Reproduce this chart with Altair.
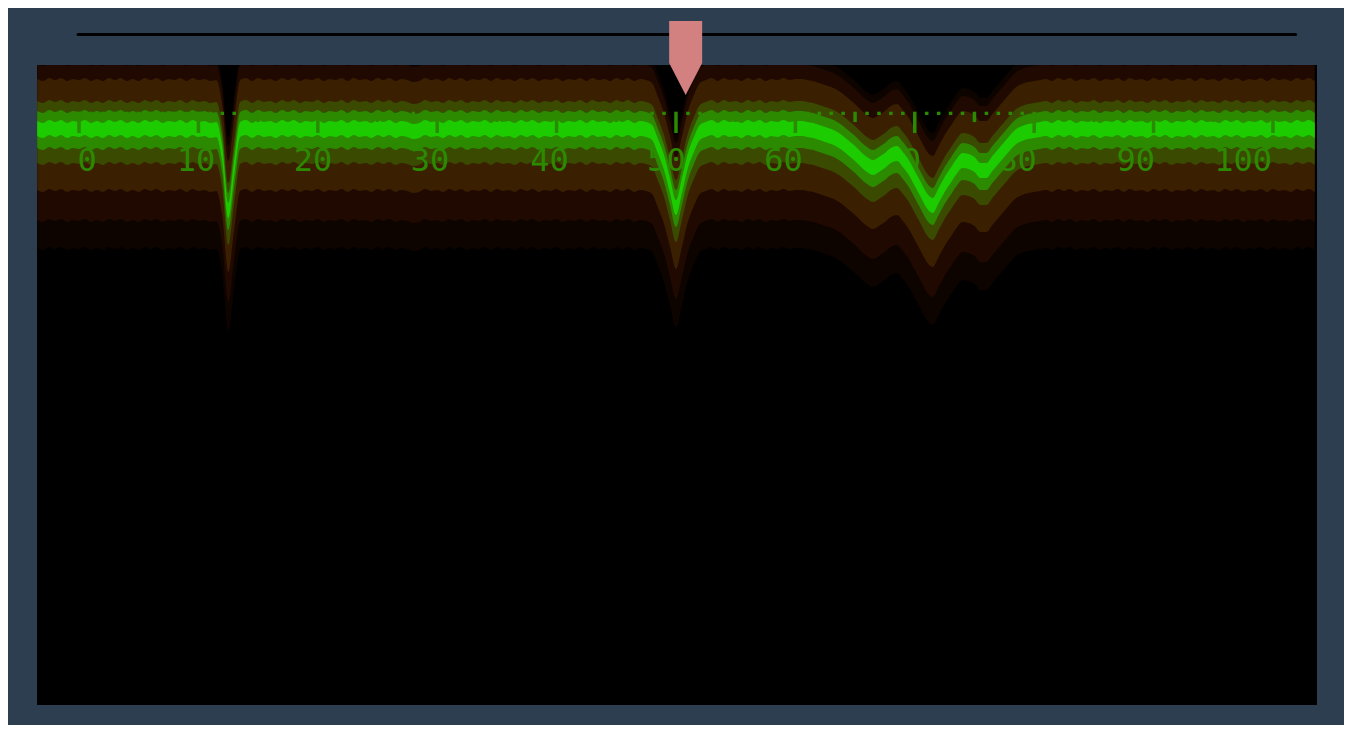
import altair as alt
import numpy as np
import pandas as pd

# range samples, every half unit across the display
x_pos = np.arange(-3.5, 104.0, 0.5)

# echo depth of the trace at each sample (pixels below the top of the display)
depth = [
    63, 65, 62, 64, 62, 65, 63, 64, 62, 65,
    63, 65, 62, 64, 62, 65, 63, 65, 62, 64,
    62, 65, 63, 64, 62, 65, 62, 64, 63, 65,
    64, 89, 145, 102, 64, 62, 65, 62, 64, 63,
    65, 62, 64, 62, 65, 63, 64, 62, 65, 63,
    64, 62, 65, 62, 64, 63, 65, 62, 64, 62,
    65, 63, 64, 66, 65, 62, 64, 63, 65, 62,
    64, 62, 65, 63, 64, 62, 65, 62, 64, 63,
    65, 62, 64, 62, 65, 63, 64, 62, 65, 63,
    64, 62, 65, 62, 64, 63, 65, 62, 64, 62,
    65, 63, 64, 67, 81, 97, 120, 142, 120, 95,
    79, 67, 64, 62, 65, 62, 64, 63, 65, 62,
    64, 62, 65, 63, 64, 62, 64, 63, 63, 64,
    65, 67, 69, 71, 74, 78, 83, 88, 94, 99,
    102, 99, 95, 90, 88, 94, 102, 113, 124, 135,
    140, 130, 119, 110, 101, 95, 96, 99, 105, 105,
    98, 91, 84, 77, 71, 68, 66, 65, 64, 63,
    65, 62, 64, 62, 65, 63, 64, 62, 65, 63,
    64, 62, 65, 62, 64, 63, 65, 62, 64, 62,
    65, 63, 64, 62, 65, 62, 64, 63, 65, 62,
    64, 62, 65, 63, 64, 62, 65, 62, 64, 63,
    65, 62, 64, 62, 65,
]

# range ruler labels and where they sit on the scale
label_text = ["0", "10", "20", "30", "40", "50", "60", "70", "80", "90", "100"]
label_pos = [0.67, 9.8, 19.6, 29.4, 39.4, 49.2, 59.0, 68.9, 78.6, 88.5, 97.5]

# cursor on the top slider
cursor_pos = [50.81]

trace = pd.DataFrame({"x": x_pos, "depth": depth})
labels = pd.DataFrame({"x": label_pos, "text": label_text, "y": 106})

ticks = np.arange(0, 104)
tick_top = np.full(len(ticks), 46.7)
tick_bottom = np.where(ticks % 10 == 0, 68, np.where(ticks % 5 == 0, 57, 50))
ruler = pd.DataFrame({"x": ticks, "y": tick_top, "y2": tick_bottom})

slider_df = pd.DataFrame({"a": [-0.08], "b": [101.9], "y": [-30.5]})
cursor_df = pd.DataFrame({"x": cursor_pos, "y": [-7]})

xs = alt.Scale(domain=[-3.52, 103.69], nice=False, zero=False)
ys = alt.Scale(domain=[0, 640], reverse=True, nice=False, zero=False)

# glow bands around the trace: (above, below, colour), outermost first
bands = [
    (72, 120, "#0d0400"),
    (64, 92, "#1f0900"),
    (49, 62, "#3a1f00"),
    (27, 35, "#3a4a00"),
    (17, 20, "#2b8a00"),
    (7, 8, "#1ccc00"),
]


def band(up, down, color):
    return (
        alt.Chart(trace)
        .transform_calculate(lo=f"datum.depth - {up}", hi=f"datum.depth + {down}")
        .mark_area(color=color, clip=True, interpolate="monotone")
        .encode(
            x=alt.X("x:Q", scale=xs, axis=None),
            y=alt.Y("lo:Q", scale=ys, axis=None),
            y2="hi:Q",
        )
    )


glow = [band(*b) for b in bands]

label_layer = (
    alt.Chart(labels)
    .mark_text(font="DejaVu Sans Mono", fontSize=32, color="#2b8a00", align="center", baseline="alphabetic")
    .encode(x=alt.X("x:Q", scale=xs, axis=None), y=alt.Y("y:Q", scale=ys, axis=None), text="text:N")
)

ruler_layer = (
    alt.Chart(ruler)
    .mark_rule(color="#2b8a00", strokeWidth=3.5)
    .encode(x=alt.X("x:Q", scale=xs, axis=None), y=alt.Y("y:Q", scale=ys, axis=None), y2="y2:Q")
)

slider = (
    alt.Chart(slider_df)
    .mark_rule(color="black", strokeWidth=3, strokeCap="round")
    .encode(x=alt.X("a:Q", scale=xs, axis=None), x2="b:Q", y=alt.Y("y:Q", scale=ys, axis=None))
)

cursor = (
    alt.Chart(cursor_df)
    .mark_point(
        shape="M-0.446,-1 L0.446,-1 L0.446,0.135 L0,1 L-0.446,0.135 Z",
        filled=True,
        color="#d38080",
        opacity=1,
        size=5476,
        strokeWidth=0,
    )
    .encode(x=alt.X("x:Q", scale=xs, axis=None), y=alt.Y("y:Q", scale=ys, axis=None))
)

chart = (
    alt.layer(*glow[:4], label_layer, *glow[4:], ruler_layer, slider, cursor)
    .properties(
        width=1280,
        height=640,
        autosize=alt.AutoSizeParams(type="none"),
        padding={"left": 29, "top": 57, "right": 27, "bottom": 20},
        background="#2c3e50",
    )
    .configure_view(fill="black", strokeWidth=0)
)

chart.save("out.html", embed_options={"renderer": "svg", "actions": False})
